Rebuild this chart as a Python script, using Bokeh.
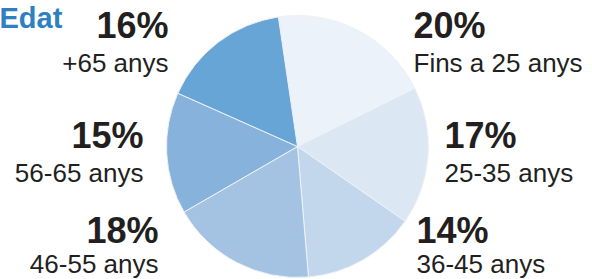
import math
from bokeh.plotting import figure
from bokeh.models import Range1d, ColumnDataSource
from bokeh.core.properties import value
from bokeh.embed import file_html
from bokeh.resources import INLINE

# ---- data ----
categories = ["Fins a 25 anys", "25-35 anys", "36-45 anys", "46-55 anys", "56-65 anys", "+65 anys"]
values = [20, 17, 14, 18, 15, 16]
pct_labels = ["20%", "17%", "14%", "18%", "15%", "16%"]
title_text = "Edat"

# ---- style ----
colors = ["#ECF2F9", "#DCE7F4", "#C2D7EC", "#A4C3E3", "#86B2DC", "#66A5D5"]
start_offset_deg = -8.4   # clockwise from 12 o'clock
W, H = 592, 279
cx, cy, r = 297, 146, 131   # in pixel space (y down)
PCT_FS, LAB_FS, TTL_FS = 36, 26, 29
SHIFT = 0.33  # baseline correction, in em

# label anchors (pixel space): (x, pct baseline, label baseline, align)
anchors = [
    (413, 37, 71, "left"),
    (444, 147, 181, "left"),
    (416, 242, 272, "left"),
    (158, 242, 272, "right"),
    (143, 147, 181, "right"),
    (168, 37, 71, "right"),
]

p = figure(width=W, height=H, output_backend="svg", toolbar_location=None,
           x_range=Range1d(0, W), y_range=Range1d(0, H),
           min_border=0, min_border_left=0, min_border_right=0,
           min_border_top=0, min_border_bottom=0)
p.axis.visible = False
p.grid.visible = False
p.outline_line_color = None
p.background_fill_color = "white"
p.border_fill_color = "white"

total = sum(values)
starts, ends = [], []
acc = start_offset_deg
for v in values:
    a0 = acc
    a1 = acc + 360.0 * v / total
    starts.append(math.radians(90 - a0))
    ends.append(math.radians(90 - a1))
    acc = a1

src = ColumnDataSource(dict(start=starts, end=ends, color=colors, cat=categories))
p.wedge(x=cx, y=H - cy, radius=r, start_angle="start", end_angle="end",
        direction="clock", fill_color="color", line_color="#EEF2F7", line_width=1,
        source=src)

for i in range(len(values)):
    x, bp, bl, a = anchors[i]
    p.text(x=[x], y=[H - (bp - SHIFT * PCT_FS)], text=[pct_labels[i]], text_align=a,
           text_baseline="alphabetic", text_font=value("Liberation Sans"),
           text_font_style="bold", text_font_size=f"{PCT_FS}px", text_color="#231F20")
    p.text(x=[x], y=[H - (bl - SHIFT * LAB_FS)], text=[categories[i]], text_align=a,
           text_baseline="alphabetic", text_font=value("Liberation Sans"),
           text_font_size=f"{LAB_FS}px", text_color="#231F20")

p.text(x=[-1], y=[H - (25 - 8)], text=[title_text], text_align="left",
       text_baseline="alphabetic", text_font=value("Liberation Sans"),
       text_font_style="bold", text_font_size=f"{TTL_FS}px", text_color="#2E80C2")

open("out.html", "w").write(file_html(p, INLINE))
